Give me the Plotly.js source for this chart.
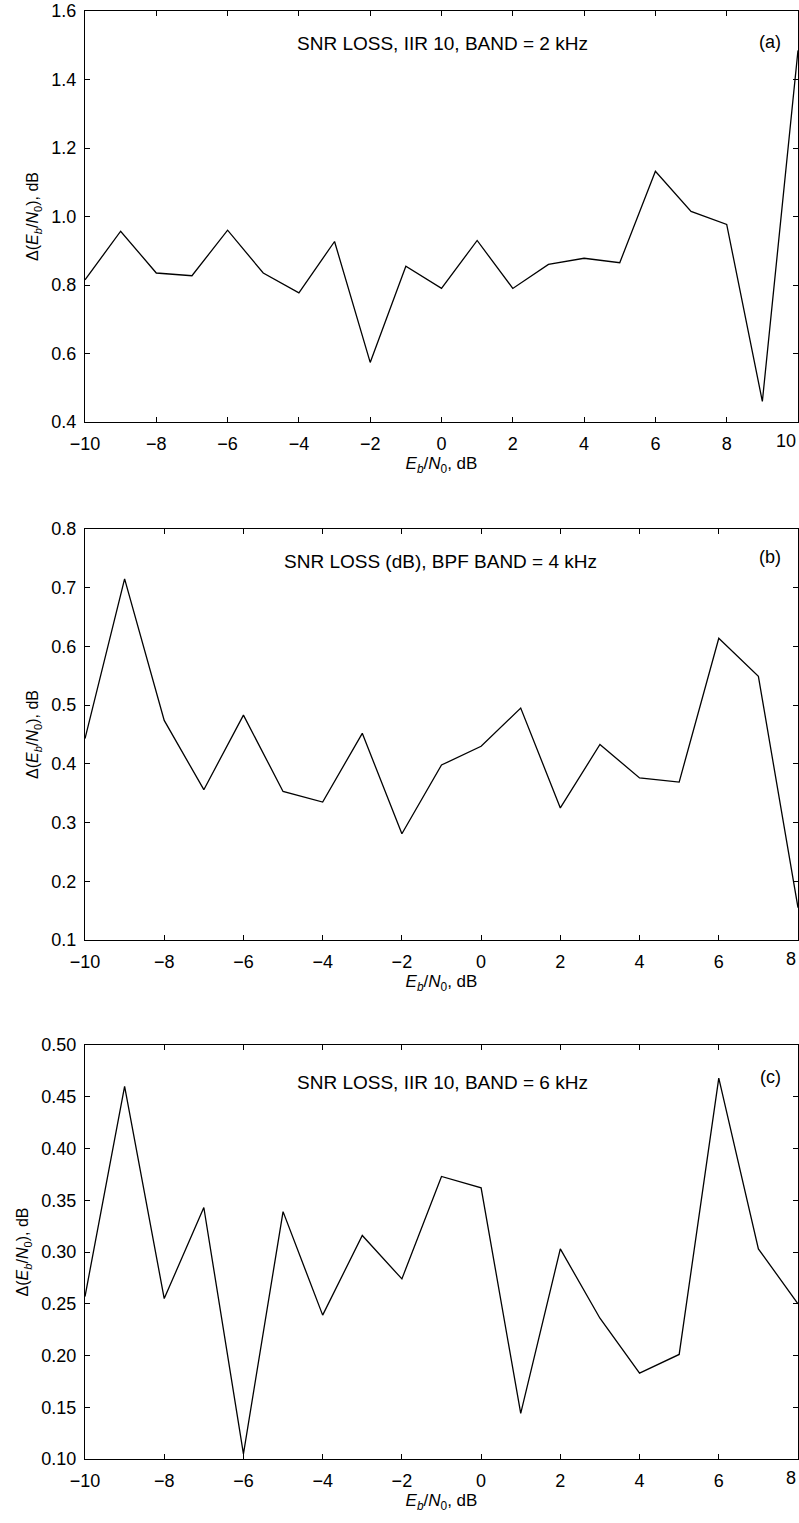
<!DOCTYPE html>
<html>
<head>
<meta charset="utf-8">
<script src="https://cdn.plot.ly/plotly-3.0.1.min.js"></script>
<style>html,body{margin:0;padding:0;background:#fff;}#chart{width:799px;height:1523px;}</style>
</head>
<body>
<div id="chart"></div>
<script>
// Eb/N0 values, dB
var ebnoA = [-10,-9,-8,-7,-6,-5,-4,-3,-2,-1,0,1,2,3,4,5,6,7,8,9,10];
var lossA = [0.815,0.957,0.835,0.827,0.960,0.835,0.777,0.927,0.574,0.855,0.790,0.930,0.790,0.860,0.878,0.865,1.132,1.015,0.977,0.460,1.485];

var ebnoB = [-10,-9,-8,-7,-6,-5,-4,-3,-2,-1,0,1,2,3,4,5,6,7,8];
var lossB = [0.443,0.715,0.474,0.356,0.483,0.353,0.335,0.452,0.281,0.398,0.430,0.495,0.325,0.433,0.376,0.369,0.614,0.549,0.155];

var ebnoC = [-10,-9,-8,-7,-6,-5,-4,-3,-2,-1,0,1,2,3,4,5,6,7,8];
var lossC = [0.257,0.460,0.255,0.343,0.105,0.339,0.239,0.316,0.274,0.373,0.362,0.144,0.303,0.236,0.183,0.201,0.468,0.303,0.250];

// x tick labels (last one drawn right-aligned so it stays inside the page)
var xTicksA = [-10,-8,-6,-4,-2,0,2,4,6,8,10];
var xTicksBC = [-10,-8,-6,-4,-2,0,2,4,6,8];

var titleA = "SNR LOSS, IIR 10, BAND = 2 kHz";
var titleB = "SNR LOSS (dB), BPF BAND = 4 kHz";
var titleC = "SNR LOSS, IIR 10, BAND = 6 kHz";
var tagA = "(a)", tagB = "(b)", tagC = "(c)";

var yTitle = "\u0394(<i>E</i><sub><i>b</i></sub>/<i>N</i><sub>0</sub>), dB";
var xTitle = "<i>E</i><sub><i>b</i></sub>/<i>N</i><sub>0</sub>, dB";

var FONT = "Liberation Sans, Arial, Helvetica, sans-serif";
var TICKSIZE = 18;
var H = 1523;
function dom(topPx, botPx){ return [1 - botPx/H, 1 - topPx/H]; }
function fmtTick(v){ return v < 0 ? '\u2212' + Math.abs(v) : String(v); }

function xax(rng, vals){
  var txt = vals.map(function(v, i){ return i === vals.length - 1 ? '' : fmtTick(v); });
  return {
    domain:[0,1], range:rng, tickmode:'array', tickvals:vals, ticktext:txt,
    showline:true, linecolor:'#000', linewidth:1, mirror:'ticks',
    ticks:'inside', ticklen:5, tickcolor:'#000', tickwidth:1,
    ticklabelstandoff:5,
    showgrid:false, zeroline:false,
    tickfont:{family:FONT,size:TICKSIZE,color:'#000'},
    title:{text:xTitle, font:{family:FONT,size:17,color:'#000'}, standoff:4}
  };
}
function yax(domY, rng, dt, fmt){
  return {
    domain:domY, range:rng, dtick:dt, tick0:0, tickformat:fmt,
    showline:true, linecolor:'#000', linewidth:1, mirror:'ticks',
    ticks:'inside', ticklen:5, tickcolor:'#000', tickwidth:1,
    ticklabelstandoff:4,
    showgrid:false, zeroline:false,
    tickfont:{family:FONT,size:TICKSIZE,color:'#000'},
    title:{text:yTitle, font:{family:FONT,size:16,color:'#000'}, standoff:8}
  };
}

var dA = dom(11,422), dB = dom(529,940), dC = dom(1045,1459);

var line = {color:'#000', width:1.3};
var data = [
  {x:ebnoA, y:lossA, type:'scatter', mode:'lines', line:line, xaxis:'x', yaxis:'y'},
  {x:ebnoB, y:lossB, type:'scatter', mode:'lines', line:line, xaxis:'x2', yaxis:'y2'},
  {x:ebnoC, y:lossC, type:'scatter', mode:'lines', line:line, xaxis:'x3', yaxis:'y3'}
];

function ann(text, xpaper, ypx, size){
  return {text:text, xref:'paper', yref:'paper', x:xpaper, y:1 - ypx/H,
    xanchor:'center', yanchor:'middle', showarrow:false,
    font:{family:FONT,size:size,color:'#000'}};
}
function lastTick(val, xr, yr, ybottom){
  return {text:fmtTick(val), xref:xr, yref:yr, x:val, y:ybottom,
    xanchor:'right', yanchor:'top', yshift:-7, showarrow:false,
    font:{family:FONT,size:TICKSIZE,color:'#000'}};
}

var layout = {
  width:799, height:1523,
  margin:{l:85, r:1, t:0, b:0},
  paper_bgcolor:'#fff', plot_bgcolor:'#fff',
  showlegend:false,
  xaxis: Object.assign(xax([-10,10], xTicksA), {anchor:'y'}),
  yaxis: Object.assign(yax(dA,[0.4,1.6],0.2,'.1f'), {anchor:'x'}),
  xaxis2: Object.assign(xax([-10,8], xTicksBC), {anchor:'y2'}),
  yaxis2: Object.assign(yax(dB,[0.1,0.8],0.1,'.1f'), {anchor:'x2'}),
  xaxis3: Object.assign(xax([-10,8], xTicksBC), {anchor:'y3'}),
  yaxis3: Object.assign(yax(dC,[0.10,0.50],0.05,'.2f'), {anchor:'x3'}),
  annotations:[
    ann(titleA,(442-85)/713,43,19),
    ann(tagA,(770-85)/713,42,18),
    ann(titleB,(440-85)/713,562,19),
    ann(tagB,(770-85)/713,557,18),
    ann(titleC,(442-85)/713,1082,19),
    ann(tagC,(770-85)/713,1077,18),
    lastTick(xTicksA[xTicksA.length-1],'x','y',0.4),
    lastTick(xTicksBC[xTicksBC.length-1],'x2','y2',0.1),
    lastTick(xTicksBC[xTicksBC.length-1],'x3','y3',0.10)
  ]
};

Plotly.newPlot('chart', data, layout, {displayModeBar:false});
</script>
</body>
</html>
